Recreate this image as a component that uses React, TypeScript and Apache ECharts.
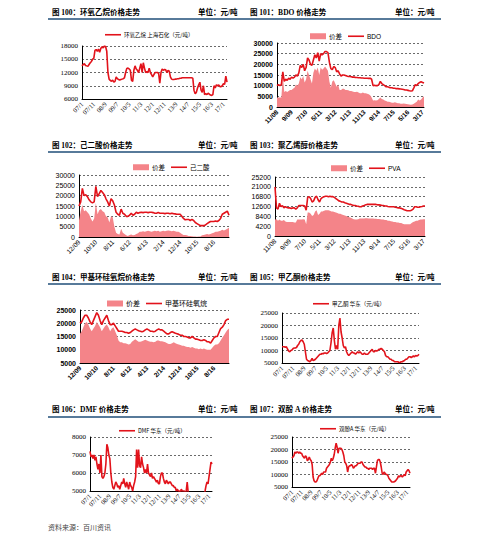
import React, { useEffect, useRef } from "react";
import * as echarts from "echarts";

// ---------- categories (monthly) ----------
function monthLabels(y0: number, m0: number, n: number, style: "ym" | "my"): string[] {
  const out: string[] = [];
  let y = y0, m = m0;
  for (let i = 0; i < n; i++) {
    const yy = String(y % 100).padStart(2, "0");
    out.push(style === "ym" ? `${yy}/${m}` : `${m}/${yy}`);
    m++;
    if (m > 12) { m = 1; y++; }
  }
  return out;
}
const catsA = monthLabels(2007, 1, 124, "ym");   // 07/1 .. 17/4
const catsB = monthLabels(2008, 11, 102, "my");  // 11/08 .. 4/17
const catsC = monthLabels(2009, 12, 90, "my");   // 12/09 .. 5/17

// ---------- data ----------
const eoPrice = [
  13500, 13800, 14000, 13600, 13500, 13400, 13800, 14200, 14500, 15000,
  15200, 17000, 17200, 16800, 17300, 16600, 17500, 17800, 17600, 18000,
  17900, 16800, 12000, 10500, 10200, 10000, 10300, 9800, 10000, 11000,
  10600, 10400, 10300, 10400, 10500, 10600, 10800, 12000, 12900, 13000,
  12800, 12500, 10200, 10000, 12500, 13500, 12800, 12500, 12000, 13000,
  14000, 12000, 14200, 13000, 12000, 12200, 12000, 13000, 12000, 11500,
  11000, 11500, 12000, 12000, 12000, 11800, 9600, 12000, 12800, 12500,
  12700, 12600, 12000, 12500, 12300, 11000, 10500, 10400, 10400, 10500,
  10500, 10600, 10600, 10700, 10700, 10800, 10800, 10800, 10800, 10800,
  10800, 10800, 10800, 10800, 10700, 8000, 7200, 7500, 8500, 9200,
  9800, 8000, 7500, 9000, 7000, 7200, 7000, 7300, 7100, 6900,
  6800, 7000, 9000, 8500, 9200, 9000, 9200, 8800, 8800, 9000,
  9500, 9300, 11200, 9800,
];

const bdoPrice = [
  10000, 10500, 10000, 10500, 16500, 12000, 13000, 12500, 13500, 13000,
  14000, 13500, 14000, 15000, 14500, 16000, 19500, 18500, 20000, 17000,
  18500, 23000, 22000, 20000, 19500, 22000, 24500, 23000, 25500, 21500,
  25000, 24500, 25000, 26000, 26000, 25500, 21000, 18000, 17500, 19000,
  18500, 16500, 17000, 15500, 14500, 15000, 15000, 14800, 14500, 14300,
  14300, 14200, 14000, 14000, 13800, 13800, 13700, 13700, 13600, 13600,
  13500, 13500, 13500, 13400, 13500, 13000, 10000, 10200, 10000, 10000,
  10500, 12000, 11000, 10500, 10000, 9500, 9500, 9200, 9000, 9000,
  8800, 8800, 8600, 8600, 8500, 8400, 8300, 8200, 8000, 8000,
  7800, 7600, 7500, 7600, 9000, 10500, 10000, 11000, 11500, 11800,
  11500, 11200,
];
const bdoSpread = [
  4500, 4500, 4400, 4500, 14500, 7000, 7500, 7000, 7500, 8000,
  8000, 8500, 9000, 10500, 10000, 11000, 14000, 13000, 14500, 11500,
  13000, 17000, 15000, 13000, 11000, 16000, 18000, 17000, 18500, 15000,
  18500, 17500, 18000, 19000, 18000, 17000, 12000, 9000, 12000, 12500,
  11000, 9500, 10500, 8000, 8000, 8500, 8500, 8000, 8000, 7800,
  7500, 7500, 7300, 7000, 7000, 7200, 6800, 6500, 6500, 6800,
  6500, 6500, 6200, 6000, 5500, 4500, 3000, 3200, 3000, 3200,
  3800, 4500, 3800, 3500, 3000, 2800, 2500, 2500, 2200, 2000,
  2000, 2200, 2000, 1800, 1800, 1500, 1500, 1600, 1500, 1400,
  1300, 1200, 1000, 1200, 1500, 2000, 2500, 3500, 3000, 3500,
  4500, 5000,
];

const adipicPrice = [
  15000, 17000, 23500, 20000, 20500, 19500, 18000, 17000, 16500, 17000,
  24500, 19500, 21000, 22500, 21500, 20500, 18500, 17000, 15000, 18500,
  17500, 15500, 12000, 11000, 10500, 13500, 11500, 11000, 10000, 10000,
  10500, 11500, 10500, 11000, 12000, 11500, 11800, 12000, 11800, 12000,
  12000, 11800, 12000, 12000, 11800, 11500, 11500, 11800, 11500, 11500,
  11500, 11300, 11500, 11500, 11200, 11500, 11300, 11200, 11000, 11000,
  11000, 10000, 9000, 8300, 8500, 8500, 8000, 8500, 8000, 7000,
  6500, 6000, 5500, 5500, 5500, 5800, 6500, 7000, 7500, 7500,
  7500, 7800, 7500, 8000, 9000, 11000, 11500, 12000, 12500, 10500,
];
const adipicSpread = [
  8000, 12500, 15500, 12500, 13000, 12000, 11000, 9000, 7500, 9000,
  16500, 11000, 13000, 13500, 12500, 12000, 10000, 9500, 7000, 10000,
  9500, 5000, 2000, 1500, 1200, 4000, 2000, 1500, 800, 500,
  1000, 1200, 800, 1000, 1500, 1800, 2500, 2500, 2800, 2500,
  2800, 3000, 2800, 2500, 2800, 3000, 2800, 3000, 2500, 2800,
  3000, 2800, 3000, 3200, 3000, 2800, 3000, 2800, 2500, 2500,
  2000, 1500, 1000, 1000, 800, 500, 500, 400, 300, 200,
  100, 200, 300, 800, 1000, 1200, 1500, 1200, 1500, 1800,
  2000, 2500, 2500, 2800, 3000, 3500, 3200, 3500, 4000, 4500,
];

const pvaPrice = [
  21000, 12000, 11500, 14000, 12500, 13000, 12000, 12500, 12200, 12000,
  12000, 11800, 12000, 12000, 11500, 12000, 13000, 13000, 13000, 13000,
  12800, 11000, 16500, 16800, 16000, 14500, 15000, 16500, 17000, 15500,
  14500, 16000, 16500, 16800, 17000, 17000, 16800, 17000, 16800, 16800,
  16500, 16000, 15500, 15000, 14800, 14500, 14500, 14200, 14000, 13800,
  13500, 13500, 13200, 13000, 13000, 12800, 12700, 12500, 12500, 12800,
  13000, 13300, 13500, 13500, 13500, 13500, 13500, 13500, 13500, 13300,
  13300, 13200, 13000, 13000, 12800, 12800, 12600, 12500, 12500, 12500,
  12500, 12300, 12200, 12000, 12000, 11800, 11500, 11200, 11000, 10800,
  10800, 10800, 11000, 11500, 12500, 12500, 12300, 12300, 12500, 12600,
  12800, 12800,
];
const pvaSpread = [
  7000, 7200, 6500, 7000, 6500, 6500, 6800, 6200, 6000, 6000,
  6000, 6000, 6000, 5800, 5800, 7000, 7000, 7000, 7000, 7200,
  7000, 5000, 10000, 10000, 9500, 8500, 9000, 10500, 11000, 9000,
  9500, 10500, 10500, 10800, 11000, 11000, 11000, 10800, 10500, 10500,
  10200, 10000, 9800, 9500, 9500, 9200, 9000, 8800, 8500, 8200,
  8000, 7800, 7500, 7200, 7000, 7000, 7200, 7500, 7500, 7500,
  7500, 7600, 7600, 7500, 7500, 7500, 7500, 7400, 7400, 7300,
  7300, 7200, 7000, 7000, 6800, 6800, 6500, 6500, 6300, 6200,
  6000, 6000, 5800, 5800, 5500, 5500, 5200, 5000, 5000, 5000,
  5000, 5000, 5500, 6000, 6200, 6500, 6500, 6800, 7000, 7000,
  7200, 7200,
];

const siloxanePrice = [
  20000, 20500, 22000, 23000, 23000, 22000, 20500, 19500, 21000, 22500,
  24000, 23000, 21000, 19500, 21000, 22000, 23000, 21000, 19500, 19500,
  20000, 19000, 18000, 17000, 17000, 17000, 16800, 16500, 16500, 16200,
  16500, 17000, 17500, 17800, 17500, 17200, 17000, 16800, 17000, 17500,
  17800, 17500, 17000, 17000, 16800, 17000, 17500, 17800, 17500, 17500,
  17000, 16500, 16000, 16000, 16500, 16800, 16500, 16200, 16000, 15800,
  15500, 15500, 15000, 15000, 14800, 14500, 14500, 15000, 14500, 14000,
  14000, 13800, 13500, 13500, 13800, 13500, 13000, 13000, 12500, 13500,
  14500, 15000, 15000, 16500, 18000, 18500, 19500, 21000, 21500, 21500,
];
const siloxaneSpread = [
  16000, 17000, 18500, 20000, 20500, 19500, 18000, 17000, 18000, 19000,
  20500, 19500, 18500, 17000, 18000, 19000, 19500, 18500, 17000, 18000,
  18500, 17000, 15500, 13500, 12800, 12800, 12500, 12500, 12300, 12000,
  12200, 13000, 13500, 14000, 13500, 13000, 13000, 13200, 13500, 13800,
  13500, 13200, 13000, 13000, 12800, 13000, 13500, 13500, 13200, 13200,
  13000, 12800, 12500, 12200, 12200, 12500, 12800, 12500, 12200, 12000,
  11800, 11500, 11500, 11200, 11000, 11000, 10800, 11000, 10800, 10500,
  10500, 10200, 10500, 10200, 10500, 10200, 10000, 10000, 10000, 10800,
  11500, 12000, 12000, 12500, 13500, 14500, 15500, 16500, 17500, 18000,
];

const mekPrice = [
  11500, 11500, 11500, 11300, 11500, 10500, 9800, 9500, 10000, 10200,
  10800, 11000, 11000, 11200, 12000, 12500, 13500, 14000, 14200, 13500,
  12500, 9500, 6500, 6000, 5800, 5500, 6000, 6800, 6000, 6200,
  6500, 7000, 7500, 8000, 8500, 8500, 8800, 8700, 9000, 9000,
  8800, 9000, 9500, 10000, 13000, 17000, 19000, 14000, 10500, 12000,
  10500, 20000, 23000, 17500, 15000, 12000, 11000, 11500, 9500, 8500,
  8000, 8500, 9000, 9500, 9000, 9000, 8500, 9000, 9500, 9000,
  9500, 9000, 8500, 8500, 9000, 8500, 8500, 8500, 9000, 9500,
  10000, 10500, 9500, 9500, 10000, 9800, 10000, 10500, 10500, 10800,
  10500, 10000, 9500, 8000, 7500, 7500, 7000, 6500, 6500, 6000,
  6000, 5500, 5500, 5500, 5500, 5200, 5200, 5500, 5500, 5800,
  6000, 6500, 6500, 7000, 7500, 7500, 7200, 7500, 7800, 7500,
  8000, 7800, 8000, 8500,
];

const dmfPrice = [
  7200, 6900, 7000, 6800, 7000, 6700, 6900, 6500, 6200, 6500,
  6000, 7000, 5800, 5700, 5800, 6000, 6500, 7600, 7400, 7000,
  6800, 6000, 5500, 5200, 5100, 5300, 5500, 5400, 5200, 5300,
  5100, 5300, 5500, 5400, 5700, 5400, 5200, 5500, 5300, 5100,
  5500, 5300, 5200, 5000, 5300, 5500, 5800, 7300, 6300, 7300,
  6400, 6300, 6900, 6500, 6300, 6000, 6200, 6000, 6500, 6000,
  5900, 5800, 6000, 5700, 5800, 5700, 5600, 5500, 5600, 5400,
  5400, 5800, 6000, 6000, 5700, 5500, 5400, 5600, 5500, 5400,
  5500, 5500, 5400, 5300, 5300, 5200, 5200, 5000, 5100, 5000,
  5000, 4900, 5100, 5000, 5000, 5000, 4900, 5000, 5500, 4900,
  4800, 4700, 4600, 4500, 4500, 4500, 4500, 4500, 4500, 4500,
  4500, 4500, 4500, 4500, 4600, 4800, 5000, 5300, 5500, 5400,
  5800, 6200, 6600, 6500,
];

const bpaPrice = [
  16500, 17000, 17500, 19000, 18500, 19000, 19000, 18500, 19000, 18500,
  18500, 17500, 17000, 16500, 17500, 17000, 15500, 16000, 17000, 16000,
  15500, 14000, 9000, 7500, 7000, 7000, 7500, 8500, 9500, 9500,
  10000, 10500, 10000, 11000, 11000, 11000, 12500, 13000, 13500, 14000,
  15000, 16500, 15500, 16500, 18000, 20500, 22500, 21000, 18500, 20500,
  20500, 20500, 20000, 19000, 17500, 15000, 14500, 13500, 11000, 13000,
  13500, 13500, 14000, 13500, 12500, 13000, 13500, 13500, 14000, 14500,
  14500, 14500, 15000, 15000, 14000, 13500, 13000, 13000, 12500, 12500,
  12000, 12500, 12500, 12500, 12000, 12500, 12500, 10500, 13000, 15500,
  16000, 16000, 15000, 13000, 10500, 10000, 11000, 10500, 10000, 10000,
  9500, 8500, 8000, 7500, 7000, 7000, 7000, 7200, 7500, 8000,
  8500, 9500, 9000, 9500, 9500, 9000, 9500, 10000, 9500, 11000,
  11500, 12000, 11500, 10500,
];

// ---------- titles / legend names ----------
const titles = [
  "图 100：环氧乙烷价格走势",
  "图 101：BDO 价格走势",
  "图 102：己二酸价格走势",
  "图 103：聚乙烯醇价格走势",
  "图 104：甲基环硅氧烷价格走势",
  "图 105：甲乙酮价格走势",
  "图 106：DMF 价格走势",
  "图 107：双酚 A 价格走势",
];
const unitText = "单位：元/吨";
const spreadName = "价差";
const sourceText = "资料来源：百川资讯";

const RED = "#e2131b";
const PINK = "#f48489";
const SERIF = "'Liberation Serif', 'Noto Sans CJK SC', serif";
const SANS = "'Liberation Sans', 'Noto Sans CJK SC', sans-serif";
const CJK = "'Noto Sans CJK SC', sans-serif";
const LINE_ICON = "path://M0,0H30V3H0Z";

type Panel = {
  grid: { left: number; top: number; width: number; height: number };
  cats: string[];
  min: number; max: number; interval: number;
  font: string; bold: boolean;
  area?: number[];
  line: number[]; lineName: string;
  legend: { left: number; top: number; fontSize: number };
};

const panels: Panel[] = [
  { grid: { left: 82, top: 46, width: 145, height: 53 }, cats: catsA, min: 6000, max: 18000, interval: 3000,
    font: SERIF, bold: false, line: eoPrice, lineName: "环氧乙烷 上海石化（元/吨）", legend: { left: 105, top: 32, fontSize: 5.5 } },
  { grid: { left: 277, top: 43, width: 147, height: 64 }, cats: catsB, min: 0, max: 30000, interval: 5000,
    font: SANS, bold: true, area: bdoSpread, line: bdoPrice, lineName: "BDO", legend: { left: 310, top: 33, fontSize: 6.5 } },
  { grid: { left: 79, top: 175, width: 150, height: 62 }, cats: catsC, min: 0, max: 30000, interval: 5000,
    font: SANS, bold: false, area: adipicSpread, line: adipicPrice, lineName: "己二酸", legend: { left: 133, top: 164, fontSize: 6.5 } },
  { grid: { left: 275, top: 177, width: 150, height: 59 }, cats: catsB, min: 0, max: 25200, interval: 4200,
    font: SANS, bold: false, area: pvaSpread, line: pvaPrice, lineName: "PVA", legend: { left: 331, top: 165, fontSize: 6.5 } },
  { grid: { left: 80, top: 310, width: 149, height: 53 }, cats: catsC, min: 5000, max: 25000, interval: 5000,
    font: SANS, bold: true, area: siloxaneSpread, line: siloxanePrice, lineName: "甲基环硅氧烷", legend: { left: 107, top: 300, fontSize: 7 } },
  { grid: { left: 282, top: 313, width: 137, height: 50 }, cats: catsA, min: 5000, max: 25000, interval: 5000,
    font: SERIF, bold: false, line: mekPrice, lineName: "甲乙酮 华东（元/吨）", legend: { left: 313, top: 301, fontSize: 5.5 } },
  { grid: { left: 90, top: 437, width: 122, height: 54 }, cats: catsA, min: 5000, max: 8000, interval: 1000,
    font: SERIF, bold: false, line: dmfPrice, lineName: "DMF 华东（元/吨）", legend: { left: 119, top: 428, fontSize: 5.5 } },
  { grid: { left: 292, top: 437, width: 118, height: 50 }, cats: catsA, min: 5000, max: 25000, interval: 5000,
    font: SERIF, bold: false, line: bpaPrice, lineName: "双酚A 华东（元/吨）", legend: { left: 320, top: 426, fontSize: 5.5 } },
];

const rowTitleY = [12, 145, 277, 409];
const rowLineY = [19, 152, 284, 417];

function buildOption(): any {
  const grid: any[] = [];
  const xAxis: any[] = [];
  const yAxis: any[] = [];
  const series: any[] = [];
  const legend: any[] = [];
  panels.forEach((p, i) => {
    grid.push({ ...p.grid });
    xAxis.push({
      type: "category", gridIndex: i, data: p.cats, boundaryGap: false,
      axisLine: { lineStyle: { color: "#000", width: 1 } },
      axisTick: { show: false },
      axisLabel: { interval: 9, rotate: 45, fontSize: 6.5, fontFamily: p.font,
        fontWeight: p.bold ? "bold" : "normal", color: "#000", margin: 4 },
      splitLine: { show: false },
    });
    yAxis.push({
      type: "value", gridIndex: i, min: p.min, max: p.max, interval: p.interval,
      axisLine: { show: true, lineStyle: { color: "#000", width: 1 } },
      axisTick: { show: false },
      axisLabel: { fontSize: 7, fontFamily: p.font, fontWeight: p.bold ? "bold" : "normal", color: "#000", margin: 4,
        formatter: (v: number) => String(v) },
      splitLine: { show: true, lineStyle: { type: [2, 2], color: "#444", width: 0.8 } },
    });
    const legData: any[] = [];
    if (p.area) {
      series.push({
        type: "line", name: spreadName, xAxisIndex: i, yAxisIndex: i, data: p.area,
        symbol: "none", lineStyle: { width: 0, color: PINK }, itemStyle: { color: PINK },
        areaStyle: { color: PINK, opacity: 1 },
      });
      legData.push({ name: spreadName, icon: "rect" });
    }
    series.push({
      type: "line", name: p.lineName, xAxisIndex: i, yAxisIndex: i, data: p.line,
      symbol: "none", lineStyle: { width: 1.6, color: RED }, itemStyle: { color: RED },
    });
    legData.push({ name: p.lineName, icon: LINE_ICON });
    legend.push({
      left: p.legend.left, top: p.legend.top, padding: 0, itemWidth: 16, itemHeight: 6, itemGap: 6,
      selectedMode: false, data: legData,
      textStyle: { fontSize: p.legend.fontSize, fontFamily: p.font === SANS ? SANS : CJK, color: "#000", padding: [0, 0, 0, -2] },
    });
  });

  const graphic: any[] = [];
  rowLineY.forEach((y) => {
    graphic.push({ type: "line", shape: { x1: 48, y1: y, x2: 441, y2: y }, style: { stroke: "#1f4e79", lineWidth: 1.6 } });
  });
  titles.forEach((t, i) => {
    const row = Math.floor(i / 2);
    const col = i % 2;
    graphic.push({ type: "text", x: col === 0 ? 52 : 250, y: rowTitleY[row],
      style: { text: t, fontSize: 7.5, fontWeight: "bold", fontFamily: SERIF, fill: "#000", verticalAlign: "middle" } });
    graphic.push({ type: "text", x: col === 0 ? 198 : 395, y: rowTitleY[row],
      style: { text: unitText, fontSize: 7.5, fontWeight: "bold", fontFamily: SERIF, fill: "#000", verticalAlign: "middle" } });
  });
  graphic.push({ type: "text", x: 48, y: 527,
    style: { text: sourceText, fontSize: 7, fontFamily: CJK, fill: "#444", verticalAlign: "middle" } });

  return { animation: false, backgroundColor: "#fff", grid, xAxis, yAxis, series, legend, graphic };
}

export default function App() {
  const ref = useRef<HTMLDivElement>(null);
  useEffect(() => {
    if (!ref.current) return;
    const chart = echarts.init(ref.current, null, { renderer: "svg" });
    chart.setOption(buildOption());
    return () => chart.dispose();
  }, []);
  return <div ref={ref} style={{ position: "absolute", left: 0, top: 0, width: 500, height: 540 }} />;
}
